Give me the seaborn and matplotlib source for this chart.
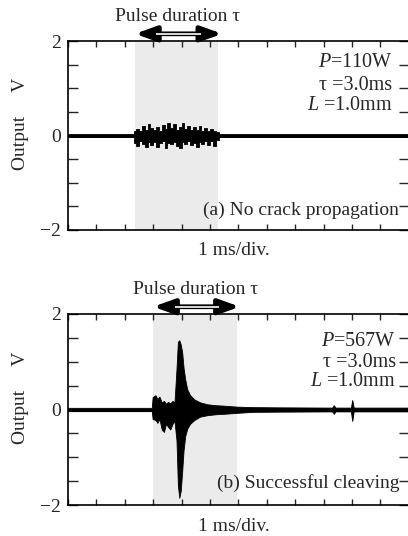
import matplotlib
matplotlib.use("Agg")
import matplotlib.pyplot as plt
import seaborn as sns
import pandas as pd

# Envelope of the oscilloscope traces (time in ms, volts)
t_a = [0.0, 2.30, 2.36, 2.45, 2.55, 2.65, 2.75, 2.85, 2.95, 3.05, 3.15, 3.25, 3.35, 3.45, 3.55,
       3.65, 3.75, 3.85, 3.95, 4.05, 4.15, 4.25, 4.35, 4.45, 4.55, 4.65, 4.75, 4.85,
       4.95, 5.05, 5.15, 5.27, 5.35, 12.0]
hi_a = [0.035, 0.035, 0.10, 0.14, 0.09, 0.20, 0.12, 0.24, 0.15, 0.11, 0.18, 0.10, 0.22, 0.13, 0.27,
        0.16, 0.24, 0.12, 0.19, 0.26, 0.14, 0.21, 0.11, 0.17, 0.12, 0.20, 0.10, 0.15,
        0.09, 0.14, 0.10, 0.08, 0.025, 0.025]
lo_a = [-0.035, -0.035, -0.15, -0.22, -0.12, -0.18, -0.25, -0.14, -0.20, -0.13, -0.24, -0.16, -0.12,
        -0.26, -0.15, -0.19, -0.13, -0.22, -0.27, -0.14, -0.18, -0.12, -0.21, -0.15, -0.24,
        -0.13, -0.17, -0.11, -0.20, -0.12, -0.22, -0.10, -0.025, -0.025]

t_b = [0.0, 2.95, 2.98, 3.08, 3.15, 3.22, 3.30, 3.38, 3.45, 3.52, 3.60, 3.68, 3.75, 3.82,
       3.87, 3.92, 3.97, 4.02, 4.07, 4.13, 4.20, 4.30, 4.45, 4.65, 4.90, 5.20, 5.50,
       5.95, 6.50, 7.50, 9.30, 9.36, 9.42, 9.96, 10.01, 10.06, 12.0]
hi_b = [0.035, 0.035, 0.26, 0.30, 0.22, 0.27, 0.15, 0.18, 0.12, 0.16, 0.13, 0.18, 0.15, 0.85,
        1.42, 1.45, 1.36, 1.20, 0.87, 0.62, 0.42, 0.30, 0.21, 0.15, 0.11, 0.09, 0.08,
        0.06, 0.05, 0.045, 0.04, 0.09, 0.04, 0.04, 0.20, 0.04, 0.04]
lo_b = [-0.035, -0.035, -0.20, -0.22, -0.28, -0.20, -0.42, -0.47, -0.30, -0.36, -0.42, -0.30, -0.24,
        -0.65, -1.60, -1.85, -1.70, -1.30, -0.85, -0.55, -0.40, -0.30, -0.22, -0.15, -0.12,
        -0.10, -0.09, -0.07, -0.05, -0.045, -0.04, -0.09, -0.04, -0.04, -0.24, -0.04, -0.04]

pulse_a = (2.36, 5.27)
pulse_b = (3.00, 5.95)
arrow_a = (2.36, 5.43)
arrow_b = (3.00, 6.05)

params_a = ["$P$=110W", "τ =3.0ms", "$L$ =1.0mm"]
params_b = ["$P$=567W", "τ =3.0ms", "$L$ =1.0mm"]
title_a = "(a) No crack propagation"
title_b = "(b) Successful cleaving"

y_ticks = [-2, -1.5, -1, -0.5, 0, 0.5, 1, 1.5, 2]
y_labels = ["\u22122", "", "", "", "0", "", "", "", "2"]
x_ticks = list(range(0, 13))

sns.set_theme(style="ticks")
plt.rcParams["font.family"] = ["Liberation Serif", "DejaVu Serif"]
plt.rcParams["mathtext.fontset"] = "custom"
plt.rcParams["mathtext.rm"] = "Liberation Serif"
plt.rcParams["mathtext.it"] = "Liberation Serif:italic"

fig = plt.figure(figsize=(4.08, 5.36), dpi=100)
ax_a = fig.add_axes([68 / 408, 1 - 230 / 536, 340.8 / 408, 189 / 536])
ax_b = fig.add_axes([68 / 408, 1 - 505 / 536, 340.8 / 408, 191 / 536])


def draw_panel(ax, t, hi, lo, step, pulse, arrow, params, params_x, params_y, title, title_y):
    df = pd.DataFrame({"t": t, "hi": hi, "lo": lo})
    ax.axvspan(pulse[0], pulse[1], color="#ebebeb", lw=0, zorder=0)
    ax.fill_between(df["t"], df["lo"], df["hi"], step=step, color="black", lw=0.6, zorder=2)
    sns.lineplot(data=df, x="t", y=[0] * len(df), color="black", lw=2.0, ax=ax, zorder=3)

    ax.set_xlim(0, 12)
    ax.set_ylim(-2, 2)
    ax.set_xticks(x_ticks)
    ax.set_yticks(y_ticks)
    ax.set_yticklabels(y_labels)
    ax.set_xlabel("")
    ax.set_ylabel("")
    ax.tick_params(axis="x", direction="in", top=True, bottom=True, length=4, width=1,
                   labelbottom=False)
    ax.tick_params(axis="y", direction="in", left=True, right=True, length=7, width=1,
                   labelsize=14, pad=5)
    for sp in ax.spines.values():
        sp.set_visible(True)
        sp.set_linewidth(1.2)
        sp.set_color("black")

    # parameter block
    for txt, yy in zip(params, params_y):
        ax.text(params_x, yy, txt, transform=ax.transAxes, ha="right", va="center",
                fontsize=14.5)
    ax.text(0.972, title_y, title, transform=ax.transAxes, ha="right", va="center", fontsize=14)

    ax.text(0.488, -0.11, "1 ms/div.", transform=ax.transAxes, ha="center", va="center",
            fontsize=14)
    ax.text(-0.138, 0.56, "Output     V", transform=ax.transAxes, ha="center", va="center",
            rotation=90, fontsize=14)

    # pulse duration arrow
    trans = ax.get_xaxis_transform()
    ax.annotate("", xy=(arrow[1], 1.038), xytext=(arrow[0], 1.038), xycoords=trans,
                textcoords=trans, annotation_clip=False,
                arrowprops=dict(arrowstyle="<|-|>,head_length=1.25,head_width=0.45",
                                mutation_scale=10, lw=3.4, color="black",
                                shrinkA=0, shrinkB=0))
    ax.plot([arrow[0] + 0.75, arrow[1] - 0.75], [1.038, 1.038], transform=trans, color="white",
            lw=1.2, clip_on=False, solid_capstyle="butt", zorder=5)
    ax.text((arrow[0] + arrow[1]) / 2 - 0.05, 1.13, "Pulse duration τ", transform=trans,
            ha="center", va="center", fontsize=14)


draw_panel(ax_a, t_a, hi_a, lo_a, "mid", pulse_a, arrow_a, params_a, 0.952,
           [0.884, 0.767, 0.661], title_a, 0.106)
draw_panel(ax_b, t_b, hi_b, lo_b, None, pulse_b, arrow_b, params_b, 0.962,
           [0.855, 0.745, 0.645], title_b, 0.115)

fig.savefig("out.png", dpi=100)
